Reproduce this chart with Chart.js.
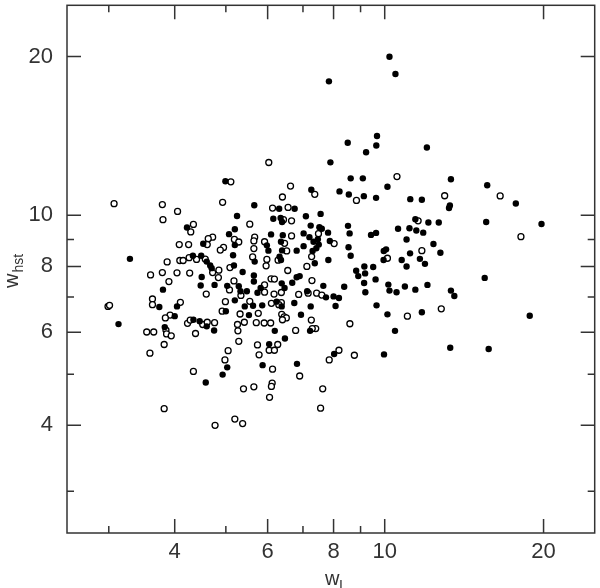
<!DOCTYPE html>
<html>
<head>
<meta charset="utf-8">
<script src="https://cdn.jsdelivr.net/npm/chart.js@4.4.1/dist/chart.umd.min.js"></script>
<style>
  html, body { margin: 0; padding: 0; background: #fff; }
</style>
</head>
<body>
<canvas id="chart" width="600" height="588"></canvas>
<script>
// w_I vs w_hst, log-log scatter

// open circles [w_I, w_hst]
const openPts = [
  [5.11,11.57],[3.07,10.52],[3.79,10.48],[4.93,10.58],[4.05,10.17],[3.80,9.81],[5.55,9.62],[4.34,9.61],
  [4.29,9.30],[5.67,9.09],[4.72,9.09],[4.63,9.03],[5.19,9.00],[5.29,8.90],[5.65,8.94],[4.61,8.80],
  [4.08,8.80],[4.25,8.80],[4.95,8.69],[4.88,8.59],[5.65,8.65],[3.87,8.16],[4.09,8.21],[4.15,8.21],
  [4.26,8.31],[4.40,8.25],[4.57,8.26],[5.62,8.34],[5.09,7.96],[4.85,7.87],[3.79,7.79],[4.04,7.78],
  [4.27,7.77],[3.60,7.71],[4.72,7.79],[4.84,7.62],[3.90,7.49],[5.18,7.51],[5.08,7.22],[4.59,7.09],
  [5.34,7.05],[3.63,6.94],[3.63,6.77],[4.10,6.84],[4.99,6.86],[5.55,6.87],[2.99,6.72],[3.01,6.75],
  [4.92,6.58],[5.32,6.50],[5.76,6.52],[3.92,6.47],[3.84,6.39],[4.23,6.24],[4.28,6.33],[4.52,6.21],
  [4.61,6.27],[4.76,6.26],[5.26,6.21],[5.42,6.27],[5.71,6.26],[3.85,6.06],[3.86,5.96],[3.94,5.91],
  [3.54,6.01],[3.65,6.01],[4.38,5.97],[5.27,6.04],[5.29,5.77],[5.74,5.68],[3.82,5.69],[5.05,5.54],
  [6.03,12.59],[10.55,11.84],[6.63,11.36],[7.37,10.96],[8.84,10.67],[6.40,10.83],[6.13,10.32],[6.56,10.35],
  [6.43,9.81],[6.66,9.76],[11.57,9.76],[7.49,9.23],[6.66,9.14],[5.92,8.91],[6.46,8.85],[8.02,8.84],
  [6.52,8.56],[7.27,8.35],[6.28,8.22],[5.98,8.25],[5.96,8.02],[7.12,8.00],[10.12,8.29],[11.76,8.57],
  [6.55,7.86],[7.28,7.52],[6.09,7.58],[6.18,7.57],[5.92,7.38],[5.92,7.15],[6.17,7.09],[6.37,7.14],
  [6.87,7.08],[7.16,7.12],[7.43,7.12],[7.60,7.06],[6.37,6.83],[6.10,6.81],[6.30,6.77],[6.38,6.49],
  [6.45,6.42],[6.51,6.39],[7.26,6.33],[6.40,6.34],[5.91,6.25],[6.08,6.25],[7.40,6.10],[7.29,6.10],
  [6.78,6.05],[8.59,6.23],[11.04,6.44],[6.04,5.55],[6.27,5.69],[6.18,5.55],[8.19,5.55],
  [3.59,5.48],[4.98,5.32],[4.34,5.06],[5.78,5.44],[6.13,5.11],[5.40,4.69],[5.65,4.73],[6.12,4.81],
  [6.10,4.74],[6.05,4.52],[5.20,4.11],[5.38,4.03],[4.77,4.00],[3.82,4.30],[6.90,4.96],[7.85,5.32],
  [8.76,5.43],[7.63,4.69],[7.56,4.31],
  [12.99,10.89],[16.55,10.88],[18.12,9.11],[12.80,6.65]
];

// filled circles [w_I, w_hst]
const filledPts = [
  [4.99,11.60],[5.66,10.45],[5.25,9.97],[4.22,9.48],[5.07,9.21],[5.20,9.41],[4.53,8.83],[5.20,8.78],
  [3.29,8.27],[5.16,8.40],[4.33,8.38],[4.49,8.38],[4.60,8.17],[5.67,8.17],[4.67,8.03],[5.18,8.03],
  [4.70,7.94],[5.38,7.81],[5.65,7.69],[4.50,7.64],[5.65,7.49],[4.48,7.36],[4.76,7.38],[5.03,7.35],
  [5.29,7.34],[3.80,7.23],[5.33,7.18],[5.48,7.18],[5.74,7.13],[4.04,6.72],[3.74,6.70],[5.20,6.90],
  [5.43,6.72],[5.63,6.74],[5.00,6.58],[5.53,6.47],[4.00,6.44],[3.13,6.22],[4.34,6.34],[4.46,6.30],
  [4.60,6.16],[4.75,6.05],[3.83,6.14],
  [7.89,12.60],[9.22,13.17],[8.62,11.75],[9.09,11.75],[10.12,11.33],[7.26,11.18],[8.21,11.10],[8.55,10.95],
  [9.13,10.87],[9.63,10.79],[11.18,10.73],[11.76,10.70],[6.31,10.29],[6.75,10.29],[7.56,10.06],[7.09,9.96],
  [6.15,9.85],[6.35,9.88],[6.39,9.71],[7.24,9.56],[7.52,9.49],[7.60,9.43],[8.52,9.55],[12.10,9.69],
  [11.43,9.83],[11.14,9.45],[11.48,9.36],[11.83,9.27],[10.60,9.43],[8.58,9.24],[9.42,9.18],[9.63,9.26],
  [7.02,9.24],[6.09,9.20],[6.41,9.17],[7.20,9.09],[7.47,9.01],[7.81,9.27],[5.98,8.77],[6.36,8.91],
  [7.33,8.91],[7.87,8.94],[7.50,8.80],[7.02,8.74],[7.42,8.66],[8.54,8.70],[11.00,9.00],[6.02,8.57],
  [6.39,8.58],[6.32,8.35],[6.81,8.57],[7.30,8.56],[6.36,8.23],[7.82,8.23],[7.37,8.11],[8.62,8.38],
  [9.96,8.56],[10.06,8.62],[9.95,8.23],[10.77,8.23],[11.17,8.47],[11.00,8.00],[11.66,8.27],[11.92,8.09],
  [12.37,8.82],[8.83,7.85],[9.15,8.00],[9.51,7.98],[8.91,7.67],[9.18,7.76],[9.61,7.56],[9.14,7.44],
  [10.16,7.39],[10.21,7.20],[10.53,7.15],[10.92,7.33],[11.43,7.23],[12.05,7.38],[9.19,7.15],[8.38,7.32],
  [7.65,7.35],[6.81,7.63],[6.90,7.67],[6.68,7.45],[6.38,7.43],[6.46,7.28],[5.82,7.28],[7.13,7.18],
  [7.74,6.99],[8.00,7.02],[8.19,6.97],[6.24,6.86],[6.38,6.72],[5.86,6.75],[6.74,6.82],[7.24,6.72],
  [8.07,6.73],[6.94,6.48],[7.22,6.04],[6.19,6.04],[9.65,6.75],[10.12,6.49],[10.46,6.04],[6.47,5.84],
  [6.04,5.70],
  [5.03,5.15],[4.93,4.99],[4.58,4.82],[5.87,5.20],[6.82,5.23],[8.02,5.46],[9.97,5.45],
  [13.35,11.70],[15.64,11.40],[17.72,10.53],[13.29,10.44],[13.24,10.32],[12.66,9.69],[15.57,9.71],[19.82,9.63],
  [12.75,8.49],[15.47,7.61],[13.35,7.20],[13.55,7.03],[11.76,6.55],[18.83,6.45],[13.31,5.61],[15.74,5.58],
  [7.84,17.94],[10.21,19.97],[10.48,18.52],[9.67,14.13],[8.51,13.72],[9.64,13.56],[12.02,13.44]
];

const tickValues = [3, 4, 5, 6, 7, 8, 9, 10, 20];
const labelledTicks = [4, 6, 8, 10, 20];
const axisMin = 2.5;
const axisMax = 25;

const FONT = '"Liberation Sans", Arial, sans-serif';
const INK = '#333';
const toXY = pts => pts.map(([x, y]) => ({ x, y }));

// frame + inward ticks on all four sides, plus subscripted axis titles
const frameTicks = {
  id: 'frameTicks',
  afterDraw(chart) {
    const { ctx, chartArea: a, scales: { x, y } } = chart;
    ctx.save();
    ctx.strokeStyle = INK;
    ctx.lineWidth = 1.5;
    ctx.strokeRect(a.left, a.top, a.right - a.left, a.bottom - a.top);
    ctx.beginPath();
    tickValues.forEach(v => {
      const len = labelledTicks.includes(v) ? 14 : 7;
      const px = x.getPixelForValue(v);
      const py = y.getPixelForValue(v);
      ctx.moveTo(px, a.bottom); ctx.lineTo(px, a.bottom - len);
      ctx.moveTo(px, a.top); ctx.lineTo(px, a.top + len);
      ctx.moveTo(a.left, py); ctx.lineTo(a.left + len, py);
      ctx.moveTo(a.right, py); ctx.lineTo(a.right - len, py);
    });
    ctx.stroke();

    ctx.fillStyle = INK;
    ctx.textBaseline = 'alphabetic';
    ctx.textAlign = 'left';
    // x title: w_I
    ctx.font = '20px ' + FONT;
    ctx.fillText('w', 325, 585);
    ctx.font = '14px ' + FONT;
    ctx.fillText('I', 339, 590);
    // y title: w_hst
    ctx.translate(18, 288);
    ctx.rotate(-Math.PI / 2);
    ctx.font = '20px ' + FONT;
    ctx.fillText('w', 0, 0);
    const ww = ctx.measureText('w').width;
    ctx.font = '14px ' + FONT;
    ctx.fillText('hst', ww + 1, 5);
    ctx.restore();
  }
};

function logAxis(position, fitSize) {
  return {
    type: 'logarithmic',
    position,
    min: axisMin,
    max: axisMax,
    grid: { display: false, drawTicks: false },
    border: { display: false },
    ticks: {
      autoSkip: false,
      maxRotation: 0,
      padding: position === 'left' ? 14 : 6,
      color: INK,
      font: { family: FONT, size: 22 },
      callback: v => labelledTicks.includes(v) ? String(v) : '',
    },
    afterBuildTicks(scale) {
      scale.ticks = tickValues.map(v => ({ value: v }));
    },
    afterFit(scale) {
      if (position === 'left') scale.width = fitSize;
      else scale.height = fitSize;
      scale.paddingTop = 0;
      scale.paddingBottom = 0;
      scale.paddingLeft = 0;
      scale.paddingRight = 0;
    },
  };
}

new Chart(document.getElementById('chart'), {
  type: 'scatter',
  data: {
    datasets: [
      {
        label: 'filled',
        data: toXY(filledPts),
        pointRadius: 3.2,
        pointBackgroundColor: '#000',
        pointBorderColor: '#000',
        pointBorderWidth: 0,
      },
      {
        label: 'open',
        data: toXY(openPts),
        pointRadius: 3,
        pointBackgroundColor: '#fff',
        pointBorderColor: '#000',
        pointBorderWidth: 1.3,
      },
    ],
  },
  options: {
    responsive: false,
    animation: false,
    devicePixelRatio: 1,
    layout: { padding: { top: 1, right: 2, left: 0, bottom: 0 } },
    scales: {
      x: logAxis('bottom', 55),
      y: logAxis('left', 67),
    },
    plugins: {
      legend: { display: false },
      tooltip: { enabled: false },
    },
  },
  plugins: [frameTicks],
});
</script>
</body>
</html>
